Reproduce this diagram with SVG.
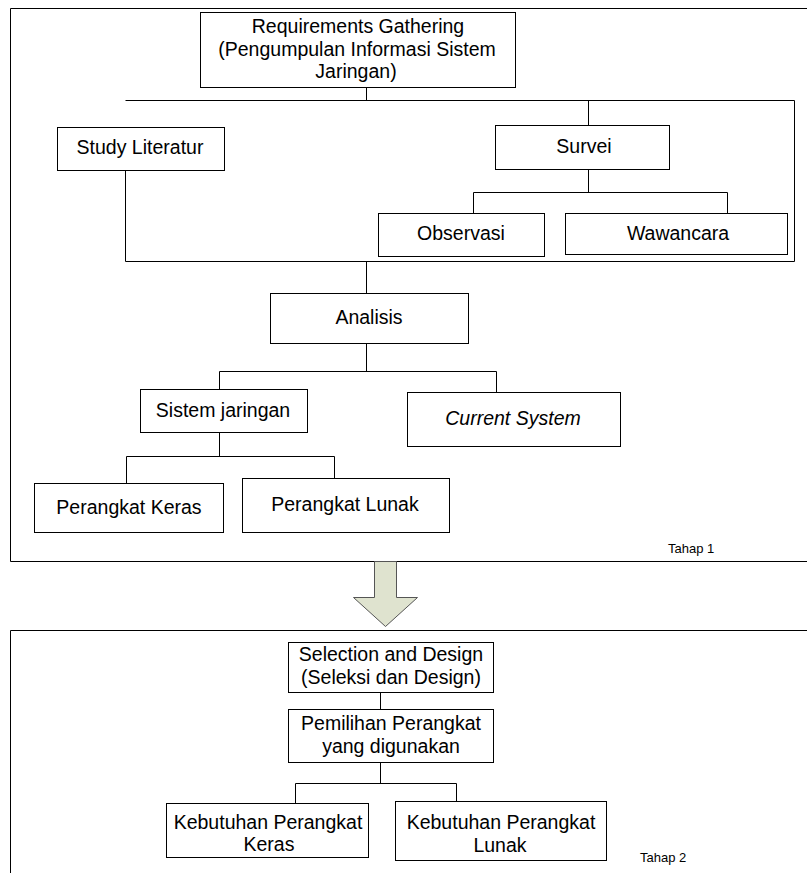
<svg xmlns="http://www.w3.org/2000/svg" width="807" height="873" viewBox="0 0 807 873">
<style>
.box{fill:#fff;stroke:#000;stroke-width:1}
.frame{fill:none;stroke:#000;stroke-width:1}
.ln{fill:none;stroke:#000;stroke-width:1}
text{font-family:"Liberation Sans",Arial,sans-serif;font-size:19.5px;fill:#000;text-anchor:middle}
.sm{font-size:13px;text-anchor:start}
</style>
<rect width="807" height="873" fill="#fff"/>
<path class="frame" d="M807,8.5 H10.5 V561.5 H807"/>
<path class="frame" d="M807,630.5 H10.5 V873"/>
<g id="connectors">
<path class="ln" d="M366.5,87 V100.5 M125.5,100.5 H794.5 V261.5 H125.5 V162 M588.5,100.5 V125 M588.5,169 V192.5 M473.5,192.5 H727.5 M473.5,192.5 V213 M727.5,192.5 V213 M366.5,261.5 V293 M366.5,343 V371.5 M219.5,371.5 H496.5 M219.5,371.5 V389 M496.5,371.5 V392 M219.5,432 V456.5 M126.5,456.5 H334.5 M126.5,456.5 V483 M334.5,456.5 V478 M380.5,692 V709 M380.5,762 V783.5 M295.5,783.5 H456.5 M295.5,783.5 V803 M456.5,783.5 V801"/>
<path d="M374.5,561.5 H396.5 V597.5 H417.5 L385.5,626.5 L353.5,597.5 H374.5 Z" fill="#dfe3cf" stroke="#555" stroke-width="1"/>
</g>
<g id="req"><rect class="box" x="200.5" y="12.5" width="315" height="75"/>
<text x="358" y="33">Requirements Gathering</text>
<text x="357" y="56">(Pengumpulan Informasi Sistem</text>
<text x="356" y="78">Jaringan)</text></g>
<g id="study"><rect class="box" x="57.5" y="127.5" width="167" height="43"/>
<text x="140" y="154">Study Literatur</text></g>
<g id="survei"><rect class="box" x="495.5" y="125.5" width="174" height="44"/>
<text x="584" y="153">Survei</text></g>
<g id="observasi"><rect class="box" x="378.5" y="213.5" width="166" height="43"/>
<text x="461" y="240">Observasi</text></g>
<g id="wawancara"><rect class="box" x="565.5" y="213.5" width="222" height="41"/>
<text x="678" y="240">Wawancara</text></g>
<g id="analisis"><rect class="box" x="270.5" y="293.5" width="198" height="50"/>
<text x="369" y="324">Analisis</text></g>
<g id="sistem"><rect class="box" x="140.5" y="389.5" width="167" height="43"/>
<text x="223" y="417">Sistem jaringan</text></g>
<g id="current"><rect class="box" x="407.5" y="392.5" width="213" height="54"/>
<text x="513" y="425" font-style="italic">Current System</text></g>
<g id="keras"><rect class="box" x="34.5" y="483.5" width="189" height="49"/>
<text x="129" y="514">Perangkat Keras</text></g>
<g id="lunak"><rect class="box" x="242.5" y="478.5" width="207" height="54"/>
<text x="345" y="511">Perangkat Lunak</text></g>
<g id="tahap1"><text class="sm" x="668" y="553">Tahap 1</text></g>
<g id="selection"><rect class="box" x="288.5" y="642.5" width="205" height="50"/>
<text x="391" y="661">Selection and Design</text>
<text x="391" y="684">(Seleksi dan Design)</text></g>
<g id="pemilihan"><rect class="box" x="288.5" y="709.5" width="205" height="53"/>
<text x="391" y="730">Pemilihan Perangkat</text>
<text x="391" y="753">yang digunakan</text></g>
<g id="kebkeras"><rect class="box" x="166.5" y="803.5" width="202" height="54"/>
<text x="268" y="829">Kebutuhan Perangkat</text>
<text x="269" y="851">Keras</text></g>
<g id="keblunak"><rect class="box" x="395.5" y="801.5" width="211" height="59"/>
<text x="501" y="829">Kebutuhan Perangkat</text>
<text x="500" y="852">Lunak</text></g>
<g id="tahap2"><text class="sm" x="640" y="862">Tahap 2</text></g>
</svg>
